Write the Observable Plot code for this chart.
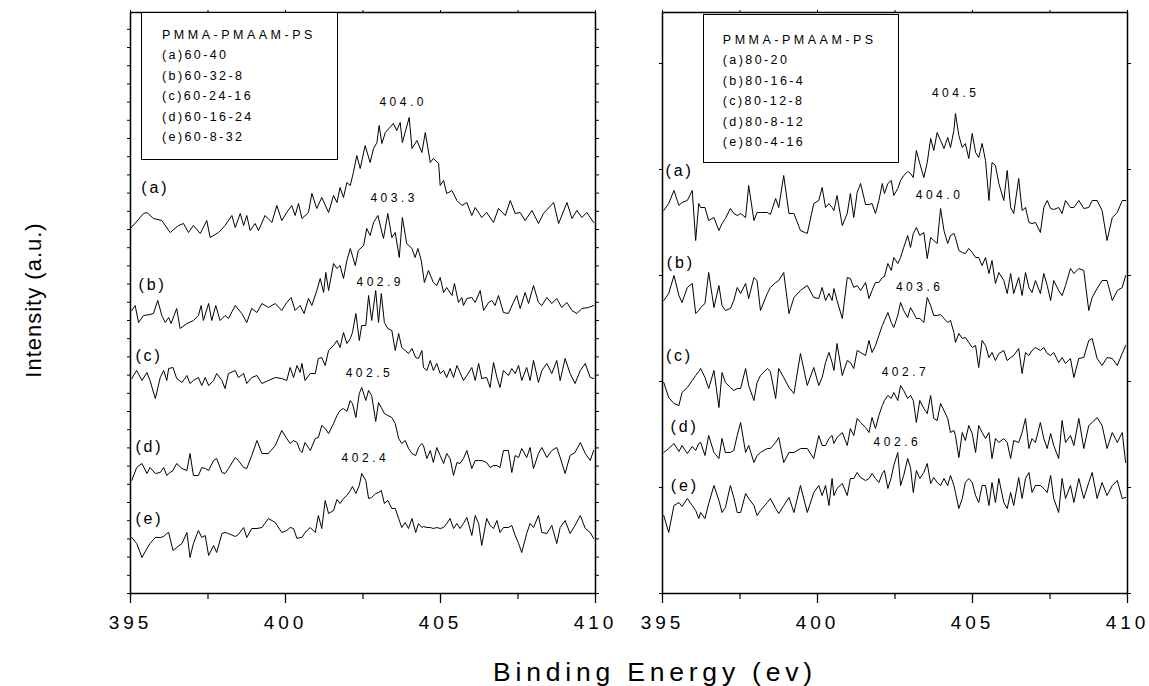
<!DOCTYPE html>
<html><head><meta charset="utf-8">
<script src="https://cdn.jsdelivr.net/npm/d3@7"></script>
<script src="https://cdn.jsdelivr.net/npm/@observablehq/plot@0.6"></script>
<style>
body{margin:0;background:#fff;}
#chart{position:relative;width:1149px;height:686px;overflow:hidden;background:#fff;font-family:"Liberation Sans",Arial,sans-serif;color:#000;}
.panel{position:absolute;top:0;}
.panel svg{overflow:visible;}
g[aria-label="x-axis tick label"] text{letter-spacing:4px;}
g[aria-description="peak"] text{letter-spacing:3.5px;}
g[aria-description="tag"] text{letter-spacing:2.8px;}
.legend{position:absolute;border:1.2px solid #000;background:#fff;box-sizing:border-box;font-size:12.5px;white-space:nowrap;}
.legend div{height:20.5px;line-height:20.5px;letter-spacing:2.4px;}
.legend div.head{letter-spacing:3.5px;}
#ytitle{position:absolute;left:-66px;top:289px;width:200px;height:22px;line-height:22px;font-size:22px;text-align:center;transform:rotate(-90deg);letter-spacing:1px;white-space:nowrap;}
#xtitle{position:absolute;left:493px;top:659px;font-size:26.5px;line-height:1;letter-spacing:4.8px;white-space:nowrap;}
</style></head>
<body>
<div id="chart">
  <div id="left" class="panel" style="left:0;width:600px;"></div>
  <div id="right" class="panel" style="left:600px;width:549px;"></div>
  <div id="legL" class="legend" style="left:141px;top:12px;width:197px;height:148px;padding:11.5px 0 0 20px;"></div>
  <div id="legR" class="legend" style="left:703px;top:14px;width:196px;height:149px;padding:14.8px 0 0 18.8px;"></div>
  <div id="ytitle"></div>
  <div id="xtitle"></div>
</div>
<script>
// ---------- text ----------
const seriesNames = ["(a)","(b)","(c)","(d)","(e)"];
const leftLegend = ["PMMA-PMAAM-PS","(a)60-40","(b)60-32-8","(c)60-24-16","(d)60-16-24","(e)60-8-32"];
const rightLegend = ["PMMA-PMAAM-PS","(a)80-20","(b)80-16-4","(c)80-12-8","(d)80-8-12","(e)80-4-16"];
const xTitle = "Binding Energy (ev)";
const yTitle = "Intensity (a.u.)";
const majorTicks = [395, 400, 405, 410];
const minorTicks = [397.5, 402.5, 407.5];
const topTicks = [395, 397.5, 400, 402.5, 405, 407.5, 410];

// ---------- peak annotations ----------
const leftPeakText = ["404.0","403.3","402.9","402.5","402.4"];
const leftPeakX = [403.03, 402.74, 402.29, 401.94, 401.81];
const leftPeakY = [491, 395.5, 311, 220.5, 135];
const rightPeakText = ["404.5","404.0","403.6","402.7","402.6"];
const rightPeakX = [403.69, 403.17, 402.53, 402.07, 401.81];
const rightPeakY = [500, 398, 306, 221, 151];
const leftTagX = [395.35, 395.26, 395.16, 395.16, 395.16];
const leftTagY = [406, 309, 238, 147, 75];
const rightTagX = [395.10, 395.14, 395.11, 395.26, 395.27];
const rightTagY = [423, 331, 238, 167, 108];

// ---------- spectra (binding energy eV, intensity a.u. incl. stacking offset) ----------
const leftA_E = [395.00,395.42,395.53,395.74,396.01,396.28,396.55,396.71,396.87,397.03,
397.25,397.46,397.57,397.84,398.05,398.27,398.38,398.54,398.65,398.75,
398.86,399.02,399.13,399.34,399.56,399.72,399.88,400.04,400.20,400.31,
400.42,400.53,400.74,400.85,401.01,401.17,401.39,401.55,401.66,401.76,
401.87,401.98,402.09,402.19,402.30,402.41,402.57,402.73,402.84,402.95,
403.02,403.11,403.22,403.48,403.59,403.70,403.77,403.99,404.08,404.24,
404.40,404.51,404.67,404.77,404.94,404.99,405.10,405.20,405.37,405.53,
405.69,405.85,406.01,406.12,406.33,406.49,406.71,406.87,407.09,407.25,
407.41,407.57,407.73,407.95,408.16,408.32,408.65,408.81,409.08,409.24,
409.40,409.56,409.72,409.94];
const leftA_I = [365,380,381,375,373,361,368,370,361,368,
360,373,356,361,368,378,366,380,368,378,
363,370,363,378,371,388,373,381,388,378,
390,375,381,400,385,396,381,398,391,406,
396,411,408,421,438,425,448,431,445,451,
468,450,461,470,463,471,451,476,445,453,
441,461,431,435,430,408,413,400,403,393,
388,391,378,386,376,381,371,385,378,393,
380,381,373,383,370,380,391,370,391,375,
383,376,381,371];

const leftB_E = [395.04,395.15,395.26,395.42,395.63,395.74,395.88,396.01,396.12,396.23,
396.31,396.49,396.60,396.82,397.03,397.19,397.28,397.35,397.52,397.62,
397.75,397.89,398.05,398.16,398.38,398.59,398.75,398.91,399.08,399.24,
399.45,399.67,399.88,400.04,400.18,400.31,400.47,400.60,400.74,400.85,
401.01,401.12,401.23,401.30,401.39,401.55,401.66,401.76,401.87,401.98,
402.09,402.25,402.35,402.52,402.62,402.73,402.84,402.98,403.16,403.30,
403.43,403.54,403.67,403.77,403.91,404.08,404.18,404.27,404.38,404.48,
404.61,404.77,404.88,404.99,405.10,405.20,405.37,405.45,405.58,405.69,
405.74,405.85,406.01,406.12,406.28,406.39,406.55,406.66,406.76,406.87,
407.03,407.19,407.35,407.46,407.57,407.73,407.84,408.00,408.16,408.27,
408.43,408.59,408.75,408.91,409.08,409.24,409.40,409.56,409.77,409.94];
const leftB_I = [283,288,271,278,279,280,293,278,271,276,
270,285,265,270,273,278,288,273,290,273,
288,273,278,275,288,280,271,285,281,290,
286,290,283,291,296,283,288,280,295,288,
303,315,301,321,303,330,325,328,315,333,
345,328,343,348,365,358,371,378,355,380,
356,361,336,376,350,345,336,345,333,311,
323,311,308,316,301,306,298,310,291,296,
288,295,296,291,303,283,291,293,288,298,
281,280,291,298,285,301,290,308,291,288,
296,290,295,286,291,283,280,285,286,288];

const energyGrid = [395.04,395.20,395.37,395.53,395.63,395.80,395.96,396.07,396.17,396.23,
396.37,396.49,396.66,396.82,396.92,397.03,397.19,397.30,397.41,397.52,
397.68,397.78,397.95,398.05,398.16,398.38,398.48,398.65,398.75,398.91,
399.08,399.24,399.45,399.67,399.88,400.04,400.15,400.26,400.37,400.47,
400.53,400.63,400.80,400.96,401.06,401.17,401.28,401.39,401.55,401.66,
401.76,401.87,401.98,402.09,402.16,402.27,402.38,402.46,402.59,402.68,
402.78,402.91,403.00,403.09,403.19,403.30,403.43,403.54,403.65,403.75,
403.86,403.97,404.08,404.20,404.29,404.40,404.45,404.56,404.67,404.77,
404.88,404.99,405.10,405.20,405.31,405.42,405.53,405.63,405.74,405.85,
406.01,406.12,406.23,406.33,406.49,406.60,406.71,406.82,406.92,407.03,
407.19,407.30,407.41,407.52,407.62,407.78,407.89,408.00,408.16,408.27,
408.43,408.59,408.75,408.86,409.02,409.18,409.34,409.51,409.67,409.83,
409.94];

const leftC_I = [215,223,213,221,213,195,216,223,213,225,
226,215,211,218,210,213,216,208,216,208,
213,220,213,205,220,223,216,220,210,216,
218,210,213,216,215,213,226,216,228,221,
230,213,220,220,235,236,228,243,248,253,
246,261,250,255,261,280,253,268,268,298,
273,303,271,300,271,265,263,243,260,246,
243,240,245,236,235,243,226,223,233,223,
230,220,223,216,225,216,228,221,213,218,
226,213,230,215,216,206,231,216,206,223,
218,225,220,228,213,226,213,233,211,223,
230,220,233,213,235,220,210,223,230,216,
215];
const leftD_I = [113,126,130,120,126,120,121,126,118,120,
123,130,125,123,140,118,118,126,125,123,
133,135,121,120,125,136,133,126,125,138,
153,140,140,148,163,155,150,153,151,143,
141,151,143,155,156,168,165,160,170,178,
183,185,182,193,190,176,200,206,193,203,
198,172,191,186,180,178,176,170,155,150,
153,145,140,138,146,150,148,135,143,131,
146,138,130,140,135,118,131,130,135,143,
125,133,133,133,131,126,128,128,126,143,
143,121,138,136,145,136,146,125,140,146,
136,143,146,136,120,138,141,151,140,133,
143];
const leftE_I = [56,50,36,45,50,56,56,57,60,61,
43,46,50,61,36,50,63,56,58,38,
48,41,60,61,60,57,59,66,56,65,
65,66,75,71,61,63,66,65,55,56,
56,61,66,61,78,65,93,80,83,94,
90,95,98,103,107,100,108,120,113,95,
96,100,101,103,90,93,85,85,75,66,
71,65,75,61,70,66,67,66,66,65,
66,65,66,70,75,65,70,65,70,76,
58,78,70,48,75,68,65,73,61,66,
66,68,58,50,41,60,70,66,78,61,
60,68,50,66,73,60,68,78,65,61,
55];

const rightA_I = [383,390,403,388,391,393,403,353,390,386,
386,373,376,363,370,375,385,380,378,380,
376,408,373,381,381,381,379,395,386,418,
380,380,363,360,390,393,406,386,390,386,
383,398,368,380,400,376,401,410,389,389,
390,380,393,410,400,410,413,398,405,413,
418,422,420,416,443,430,416,431,455,443,
461,453,445,456,446,463,480,458,446,450,
435,460,441,436,450,433,393,431,428,410,
393,423,386,380,415,383,386,371,370,371,
361,386,393,385,384,386,380,393,386,386,
393,385,386,393,393,383,353,376,381,393,
393];
const rightB_I = [293,300,318,298,291,306,310,280,283,286,
290,321,286,308,288,283,285,293,306,300,
310,295,316,313,283,300,306,311,313,321,
280,296,303,308,296,295,306,293,300,293,
305,293,275,316,315,306,308,303,311,295,
303,311,311,316,317,330,323,336,330,336,
346,358,346,360,366,358,361,335,356,353,
350,385,363,350,358,360,356,343,341,340,
345,341,336,336,328,336,320,333,310,321,
313,300,320,300,316,298,321,306,301,313,
300,320,308,293,313,303,298,308,325,320,
325,323,283,296,305,313,313,293,303,306,
318];
const rightC_I = [211,196,190,188,201,206,213,218,222,225,
216,205,223,186,221,211,206,203,205,205,
225,208,193,211,218,225,222,195,225,216,
206,200,240,208,226,208,216,231,241,231,
223,250,218,233,231,225,243,241,238,253,
241,248,258,268,273,281,271,266,278,291,
283,276,286,281,275,275,271,296,288,278,
278,279,275,271,273,261,251,260,255,256,
251,246,248,226,253,248,236,241,233,240,
243,233,236,238,245,220,241,238,243,246,
243,246,240,238,241,231,236,230,235,216,
235,236,253,255,235,228,236,235,228,240,
248];
const rightD_I = [141,145,150,142,148,140,147,143,150,151,
138,158,141,135,155,141,141,143,158,171,
141,148,131,138,141,145,145,151,156,131,
141,141,145,145,135,158,148,148,155,158,
150,156,161,148,165,158,175,171,166,161,
176,165,178,188,193,198,195,201,193,208,
203,195,198,193,171,193,185,180,198,175,
173,190,183,175,161,163,158,136,161,153,
168,160,141,168,161,155,161,135,155,151,
155,151,135,153,151,161,175,145,155,151,
171,155,145,160,148,135,173,151,158,148,
175,145,168,171,176,168,145,161,151,161,
131];
const rightE_I = [78,61,88,91,87,95,88,83,75,81,
75,90,108,93,81,86,108,96,81,81,
100,95,88,78,83,91,95,85,80,88,
96,81,108,81,101,108,98,108,88,115,
98,105,110,98,115,115,121,116,113,115,
120,115,111,120,123,105,116,128,141,108,
118,135,126,101,123,115,121,130,110,116,
111,108,115,108,118,108,101,85,95,111,
115,111,98,91,108,108,88,111,91,115,
91,85,101,88,116,95,115,121,101,108,
108,105,101,118,95,81,115,95,108,91,
115,95,111,121,95,111,98,108,113,95,
96];

// ---------- scale settings ----------
const yDomain = [0, 581];
const leftYTickStep = 18.2;
const rightYTickStep = 106;

const FONT = "'Liberation Sans', Arial, sans-serif";

function toRows(E, I, name) {
  const n = Math.min(E.length, I.length);
  const out = [];
  for (let i = 0; i < n; i++) out.push({E: E[i], I: I[i], s: name});
  return out;
}

function makePanel(opts) {
  const {traces, tagX, tagY, peakX, peakY, peakText, yStep, width, marginLeft, marginRight} = opts;
  const lineData = traces.flatMap((t, k) => toRows(t.E, t.I, seriesNames[k]));
  const tags = seriesNames.map((t, i) => ({x: tagX[i], y: tagY[i], t}));
  const peaks = peakText.map((t, i) => ({x: peakX[i], y: peakY[i], t}));
  const yTicks = d3.range(yDomain[0], yDomain[1] + 0.01, yStep);
  return Plot.plot({
    width, height: 640,
    marginLeft, marginRight, marginTop: 12, marginBottom: 47,
    x: {domain: [395, 410], label: null},
    y: {domain: yDomain, label: null},
    style: {fontFamily: FONT, background: "transparent", color: "#000", overflow: "visible"},
    marks: [
      Plot.axisX(majorTicks, {tickSize: 10, tickPadding: 12, fontSize: 19, label: null, strokeWidth: 1.3}),
      Plot.axisX(minorTicks, {tickSize: 6, tickFormat: () => "", label: null, strokeWidth: 1.2}),
      Plot.axisX(topTicks, {anchor: "top", tickSize: 3, tickFormat: () => "", label: null}),
      Plot.axisY(yTicks, {anchor: "left", tickSize: 3, tickFormat: () => "", label: null}),
      Plot.axisY(yTicks, {anchor: "right", tickSize: 3, tickFormat: () => "", label: null}),
      Plot.line(lineData, {x: "E", y: "I", z: "s", stroke: "#000", strokeWidth: 1}),
      Plot.text(tags, {x: "x", y: "y", text: "t", textAnchor: "start", fontSize: 16, fill: "#000", ariaDescription: "tag"}),
      Plot.text(peaks, {x: "x", y: "y", text: "t", textAnchor: "start", fontSize: 12, fill: "#000", ariaDescription: "peak"}),
      Plot.frame({stroke: "#000", strokeWidth: 1.5})
    ]
  });
}

const leftPlot = makePanel({
  traces: [
    {E: leftA_E, I: leftA_I},
    {E: leftB_E, I: leftB_I},
    {E: energyGrid, I: leftC_I},
    {E: energyGrid, I: leftD_I},
    {E: energyGrid, I: leftE_I}
  ],
  tagX: leftTagX, tagY: leftTagY, peakX: leftPeakX, peakY: leftPeakY, peakText: leftPeakText,
  yStep: leftYTickStep, width: 600, marginLeft: 130, marginRight: 5
});
const rightPlot = makePanel({
  traces: [
    {E: energyGrid, I: rightA_I},
    {E: energyGrid, I: rightB_I},
    {E: energyGrid, I: rightC_I},
    {E: energyGrid, I: rightD_I},
    {E: energyGrid, I: rightE_I}
  ],
  tagX: rightTagX, tagY: rightTagY, peakX: rightPeakX, peakY: rightPeakY, peakText: rightPeakText,
  yStep: rightYTickStep, width: 549, marginLeft: 62, marginRight: 22
});
document.getElementById("left").appendChild(leftPlot);
document.getElementById("right").appendChild(rightPlot);

function fillLegend(id, lines) {
  const el = document.getElementById(id);
  lines.forEach((t, i) => {
    const d = document.createElement("div");
    if (i === 0) d.className = "head";
    d.textContent = t;
    el.appendChild(d);
  });
}
fillLegend("legL", leftLegend);
fillLegend("legR", rightLegend);
document.getElementById("xtitle").textContent = xTitle;
document.getElementById("ytitle").textContent = yTitle;
</script>
</body></html>
